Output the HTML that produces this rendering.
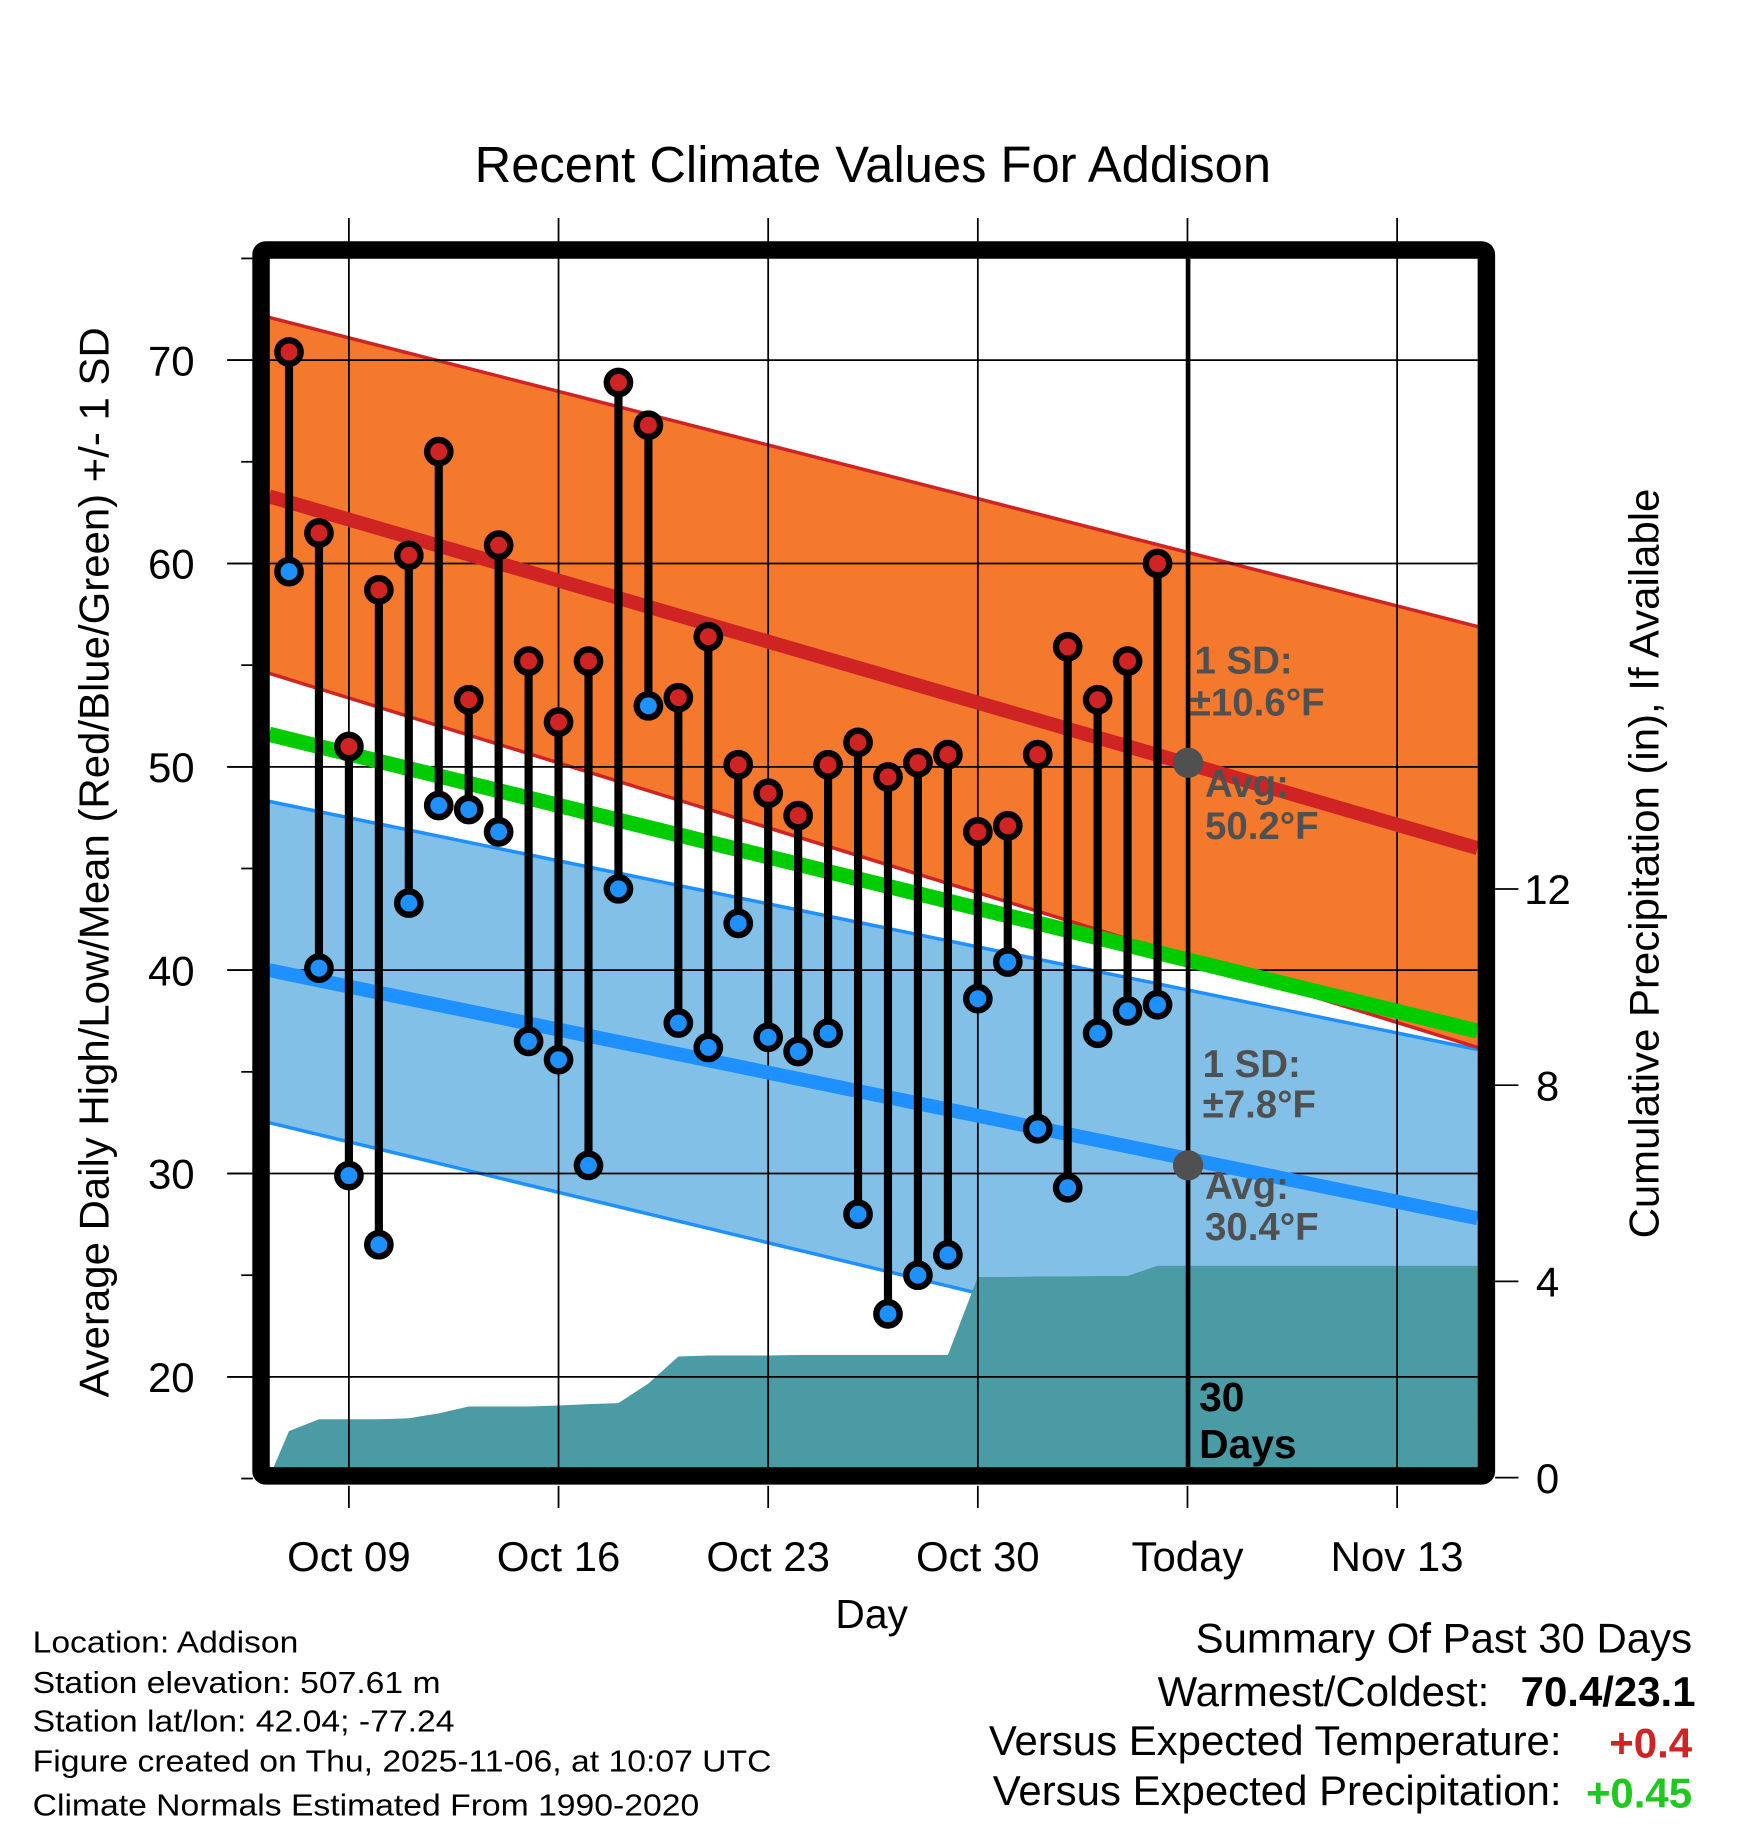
<!DOCTYPE html>
<html><head><meta charset="utf-8"><style>
html,body{margin:0;padding:0;background:#fff;}
svg{display:block;font-family:"Liberation Sans",Arial,sans-serif;}
</style></head><body>
<svg id="chart" width="1748" height="1828" viewBox="0 0 1500 1568.6" xmlns="http://www.w3.org/2000/svg">
<g id="bands"></g>
<g id="precip"></g>
<g id="grid"></g>
<g id="means"></g>
<g id="marks"></g>
<g id="axes"></g>
<text x="749" y="156" font-size="43.5" text-anchor="middle">Recent Climate Values For Addison</text>
<text transform="translate(93,740) rotate(-90)" font-size="36" text-anchor="middle">Average Daily High/Low/Mean (Red/Blue/Green) +/- 1 SD</text>
<text transform="translate(1423,741) rotate(-90)" font-size="36" text-anchor="middle">Cumulative Precipitation (in), If Available</text>
<text x="748" y="1397" font-size="35" text-anchor="middle">Day</text>
<g font-weight="bold" font-size="33" fill="#505050">
<text x="1025" y="578">1 SD:</text><text x="1021" y="614">±10.6°F</text>
<text x="1034" y="684">Avg:</text><text x="1034" y="720">50.2°F</text>
<text x="1032" y="924">1 SD:</text><text x="1032" y="959">±7.8°F</text>
<text x="1034" y="1029">Avg:</text><text x="1034" y="1064">30.4°F</text>
</g>
<g font-weight="bold" font-size="35" fill="#000">
<text x="1029" y="1211">30</text><text x="1029" y="1251">Days</text>
</g>
<g font-size="26" fill="#000">
<text x="28" y="1418" textLength="228" lengthAdjust="spacingAndGlyphs">Location: Addison</text>
<text x="28" y="1453" textLength="350" lengthAdjust="spacingAndGlyphs">Station elevation: 507.61 m</text>
<text x="28" y="1486" textLength="362" lengthAdjust="spacingAndGlyphs">Station lat/lon: 42.04; -77.24</text>
<text x="28" y="1520" textLength="634" lengthAdjust="spacingAndGlyphs">Figure created on Thu, 2025-11-06, at 10:07 UTC</text>
<text x="28" y="1558" textLength="572" lengthAdjust="spacingAndGlyphs">Climate Normals Estimated From 1990-2020</text>
</g>
<g font-size="36" fill="#000">
<text x="1452" y="1418" text-anchor="end">Summary Of Past 30 Days</text>
<text x="1278" y="1464" text-anchor="end">Warmest/Coldest:</text>
<text x="1455" y="1464" text-anchor="end" font-weight="bold">70.4/23.1</text>
<text x="1340" y="1506" text-anchor="end">Versus Expected Temperature:</text>
<text x="1452" y="1508" text-anchor="end" font-weight="bold" fill="#d02424">+0.4</text>
<text x="1340" y="1549" text-anchor="end">Versus Expected Precipitation:</text>
<text x="1452" y="1551" text-anchor="end" font-weight="bold" fill="#1ec81e">+0.45</text>
</g>
</svg>
<script>
// data
const highs = [70.4,61.5,51.0,58.7,60.4,65.5,53.3,60.9,55.2,52.2,55.2,68.9,66.8,53.4,56.4,50.1,48.7,47.6,50.1,51.2,49.5,50.2,50.6,46.8,47.1,50.6,55.9,53.3,55.2,60.0];
const lows  = [59.6,40.1,29.9,26.5,43.3,48.1,47.9,46.8,36.5,35.6,30.4,44.0,53.0,37.4,36.2,42.3,36.7,36.0,36.9,28.0,23.1,25.0,26.0,38.6,40.4,32.2,29.3,36.9,38.0,38.3];
const precip = [0.95,1.19,1.19,1.19,1.21,1.31,1.45,1.45,1.45,1.47,1.50,1.52,1.92,2.47,2.49,2.49,2.49,2.50,2.50,2.50,2.50,2.50,2.50,4.09,4.09,4.10,4.10,4.11,4.11,4.32];
const xTickLabels = ["Oct 09","Oct 16","Oct 23","Oct 30","Today","Nov 13"];
const xTickDays = [2,9,16,23,30,37]; // days after Oct 7
const yTicks = [20,30,40,50,60,70];
const pTicks = [0,4,8,12];
// normals at plot left / right edges
const normHigh = [63.3,46.0];
const highUpper = [72.1,56.9], highLower = [54.6,36.2];
const normLow = [40.0,27.8];
const lowUpper = [48.3,36.1], lowLower = [32.5,18.2];
const normMean = [51.6,37.0];
const todayHigh = 50.2, todayLow = 30.4;

const L=231,R=1268,T=222,B=1259;
const X = d => 248 + d*25.7;
const Y = v => 658 - (v-50)*17.45;
const P = v => 1268 - v*42.1;
const NS='http://www.w3.org/2000/svg';
function mk(parent,tag,attrs){const e=document.createElementNS(NS,tag);for(const k in attrs)e.setAttribute(k,attrs[k]);document.getElementById(parent).appendChild(e);return e;}
function band(u,l){return [[L,Y(u[0])],[R,Y(u[1])],[R,Y(l[1])],[L,Y(l[0])]];}
function pts(a){return a.map(p=>p.join(',')).join(' ');}

// bands
let lb=band(lowUpper,lowLower);
let e=mk('bands','polygon',{points:pts(lb),fill:'#82c0e8'});


e=mk('bands','polyline',{points:pts([lb[0],lb[1]]),stroke:'#1e90ff','stroke-width':3,fill:'none'});


e=mk('bands','polyline',{points:pts([lb[3],lb[2]]),stroke:'#1e90ff','stroke-width':3,fill:'none'});


let hb=band(highUpper,highLower);
e=mk('bands','polygon',{points:pts(hb),fill:'#f4792d'});


e=mk('bands','polyline',{points:pts([hb[0],hb[1]]),stroke:'#d02424','stroke-width':3,fill:'none'});


e=mk('bands','polyline',{points:pts([hb[3],hb[2]]),stroke:'#d02424','stroke-width':3,fill:'none'});



// precipitation
let pp=[[L,B],[L,P(0)]];
precip.forEach((v,i)=>pp.push([X(i),P(v)]));
pp.push([R,P(precip[precip.length-1])],[R,B]);
e=mk('precip','polygon',{points:pts(pp),fill:'#4a9ba3'});



// grid
xTickDays.forEach((d,i)=>{
  const g=mk('grid','line',{x1:X(d),x2:X(d),y1:187,y2:B,stroke:'#000','stroke-width':1.5});
  
  
});
yTicks.forEach(v=>{
  const g=mk('grid','line',{x1:195,x2:R,y1:Y(v),y2:Y(v),stroke:'#000','stroke-width':1.5});
  
  
});

// mean lines
e=mk('means','line',{x1:L,y1:Y(normMean[0]),x2:R,y2:Y(normMean[1]),stroke:'#00cc00','stroke-width':13});


e=mk('means','line',{x1:L,y1:Y(normHigh[0]),x2:R,y2:Y(normHigh[1]),stroke:'#d02424','stroke-width':12});


e=mk('means','line',{x1:L,y1:Y(normLow[0]),x2:R,y2:Y(normLow[1]),stroke:'#1e90ff','stroke-width':12});


e=mk('means','line',{x1:X(30)+0.5,x2:X(30)+0.5,y1:T,y2:B,stroke:'#000','stroke-width':4});


e=mk('means','circle',{cx:X(30)+0.5,cy:Y(todayHigh),r:13,fill:'#505050'});


e=mk('means','circle',{cx:X(30)+0.5,cy:Y(todayLow),r:13,fill:'#505050'});



// daily marks
highs.forEach((h,i)=>{
  const s=mk('marks','line',{x1:X(i),x2:X(i),y1:Y(h),y2:Y(lows[i]),stroke:'#000','stroke-width':7});
  
  
  const c1=mk('marks','circle',{cx:X(i),cy:Y(h),r:10,fill:'#d02424',stroke:'#000','stroke-width':5.5});
  
  
  const c2=mk('marks','circle',{cx:X(i),cy:Y(lows[i]),r:10,fill:'#1e90ff',stroke:'#000','stroke-width':5.5});
  
  
});

// frame and axes
e=mk('axes','rect',{x:224,y:214.5,width:1051.5,height:1052,fill:'none',stroke:'#000','stroke-width':15,rx:4});


for(let v=15;v<=75;v+=5){
  const major=v%10===0;
  const t=mk('axes','line',{x1:major?195:207,x2:217,y1:Y(v),y2:Y(v),stroke:'#000','stroke-width':1.5});
  
  
}
yTicks.forEach(v=>{
  const t=mk('axes','text',{x:167,y:Y(v)+13,'font-size':36,'text-anchor':'end'});
  t.textContent=v;
  
  
});
xTickDays.forEach((d,i)=>{
  const t=mk('axes','line',{x1:X(d),x2:X(d),y1:1275,y2:1294,stroke:'#000','stroke-width':1.5});
  
  
  const l=mk('axes','text',{x:X(d),y:1348,'font-size':36,'text-anchor':'middle'});
  l.textContent=xTickLabels[i];
  
  
});
pTicks.forEach(v=>{
  const t=mk('axes','line',{x1:1283,x2:1303,y1:P(v),y2:P(v),stroke:'#000','stroke-width':1.5});
  
  
  const l=mk('axes','text',{x:1328,y:P(v)+13,'font-size':36,'text-anchor':'middle'});
  l.textContent=v;
  
  
});
</script>
</body></html>
